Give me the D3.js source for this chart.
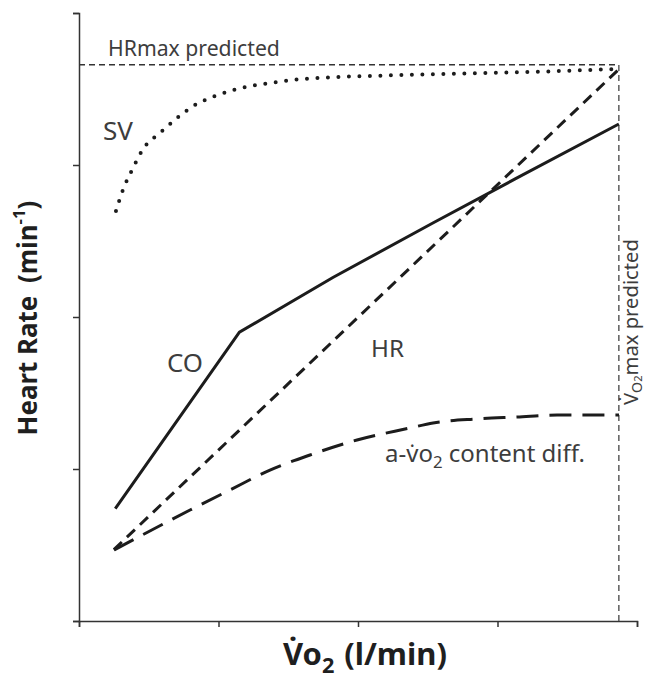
<!DOCTYPE html>
<html>
<head>
<meta charset="utf-8">
<title>Heart rate, SV, CO vs VO2</title>
<script src="https://cdn.jsdelivr.net/npm/d3@7"></script>
<style>
    body { margin: 0; background: #fff; }
    text { font-family: "Noto Sans", "Open Sans", sans-serif; fill: #3d3d3d; }
    .title { font-weight: bold; fill: #1f1f1f; }
    .axis path, .axis line { stroke: #333; stroke-width: 1.5; }
</style>
</head>
<body>
<svg id="chart" width="648" height="679"></svg>
<script>
    // Axis ticks (the original shows no tick labels)
    var xTicks = [0, 1, 2, 3, 4];
    var yTicks = [0, 1, 2, 3, 4];

    // Predicted maxima (reference lines)
    var vo2MaxPredicted = 3.87;
    var hrMaxPredicted = 3.66;

    // HR - straight line up to HRmax
    var hrX = [0.25, 3.87];
    var hrY = [0.47, 3.63];

    // CO - steep first part, then a flatter slope
    var coX = [0.26, 1.15, 1.82, 2.54, 3.13, 3.87];
    var coY = [0.74, 1.90, 2.26, 2.62, 2.91, 3.27];

    // SV - rises fast, then plateaus
    var svX = [0.265, 0.315, 0.387, 0.459, 0.581, 0.703, 0.832, 0.976, 1.133, 1.369, 1.606, 1.849, 2.086, 2.659, 3.233, 3.871];
    var svY = [2.697, 2.836, 2.980, 3.105, 3.211, 3.309, 3.395, 3.454, 3.500, 3.539, 3.566, 3.579, 3.586, 3.599, 3.612, 3.632];

    // a-vO2 content difference
    var avX = [0.251, 0.796, 1.082, 1.369, 1.656, 1.993, 2.373, 2.538, 2.853, 3.140, 3.427, 3.871];
    var avY = [0.467, 0.730, 0.862, 0.993, 1.092, 1.191, 1.270, 1.303, 1.329, 1.342, 1.355, 1.355];

    var margin = {top: 13, left: 79},
        width = 558,
        height = 608;

    var svg = d3.select("#chart");
    var g = svg.append("g").attr("transform", "translate(" + margin.left + "," + margin.top + ")");

    var x = d3.scaleLinear().domain([0, 4]).range([0, width]);
    var y = d3.scaleLinear().domain([0, 4]).range([height, 0]);

    g.append("g")
        .attr("class", "axis")
        .attr("transform", "translate(0," + height + ")")
        .call(d3.axisBottom(x).tickValues(xTicks).tickFormat("").tickSize(6));

    g.append("g")
        .attr("class", "axis")
        .call(d3.axisLeft(y).tickValues(yTicks).tickFormat("").tickSize(6));

    // reference lines
    g.append("line")
        .attr("x1", x(0)).attr("x2", x(vo2MaxPredicted))
        .attr("y1", y(hrMaxPredicted)).attr("y2", y(hrMaxPredicted))
        .attr("stroke", "#333").attr("stroke-width", 1.5).attr("stroke-dasharray", "6 4");

    g.append("line")
        .attr("x1", x(vo2MaxPredicted)).attr("x2", x(vo2MaxPredicted))
        .attr("y1", y(0)).attr("y2", y(hrMaxPredicted))
        .attr("stroke", "#444").attr("stroke-width", 1.3).attr("stroke-dasharray", "6 4");

    function pts(xs, ys) {
        return xs.map(function (d, i) { return [d, ys[i]]; });
    }

    var lineLin = d3.line().x(function (d) { return x(d[0]); }).y(function (d) { return y(d[1]); });
    var lineCurve = d3.line().curve(d3.curveMonotoneX)
        .x(function (d) { return x(d[0]); }).y(function (d) { return y(d[1]); });

    var series = [
        {data: pts(svX, svY), gen: lineCurve, dash: "0 10.5", w: 4, cap: "round"},
        {data: pts(avX, avY), gen: lineCurve, dash: "22 11", w: 3, cap: "butt"},
        {data: pts(hrX, hrY), gen: lineLin, dash: "11 7", w: 3, cap: "butt"},
        {data: pts(coX, coY), gen: lineLin, dash: null, w: 3, cap: "butt"}
    ];

    g.selectAll(".curve")
        .data(series)
        .enter().append("path")
        .attr("class", "curve")
        .attr("d", function (d) { return d.gen(d.data); })
        .attr("fill", "none")
        .attr("stroke", "#1c1c1c")
        .attr("stroke-width", function (d) { return d.w; })
        .attr("stroke-linecap", function (d) { return d.cap; })
        .attr("stroke-dasharray", function (d) { return d.dash; });

    // scale font so a label spans a given width
    function fit(t, w) {
        var fs = parseFloat(t.style("font-size"));
        var len = t.node().getComputedTextLength();
        t.style("font-size", (fs * w / len) + "px");
        return t;
    }

    function sub(t, txt, dy) {
        t.append("tspan").attr("font-size", "70%").attr("dy", dy + "em").text(txt);
    }

    // plain labels
    fit(svg.append("text").attr("x", 108).attr("y", 56).style("font-size", "20px").text("HRmax predicted"), 172);
    fit(svg.append("text").attr("x", 103).attr("y", 140).style("font-size", "24px").text("SV"), 30);
    fit(svg.append("text").attr("x", 167).attr("y", 372).style("font-size", "24px").text("CO"), 36);
    fit(svg.append("text").attr("x", 371).attr("y", 357).style("font-size", "24px").text("HR"), 33);

    var av = svg.append("text").attr("x", 385).attr("y", 462).style("font-size", "22px");
    av.append("tspan").text("a-v\u0307o");
    sub(av, "2", 0.35);
    av.append("tspan").attr("dy", "-0.245em").text(" content diff.");
    fit(av, 200);

    var vm = svg.append("text").attr("transform", "translate(638,405) rotate(-90)").style("font-size", "19px");
    vm.append("tspan").text("V\u0307");
    sub(vm, "O", 0.3);
    vm.append("tspan").attr("font-size", "55%").text("2");
    vm.append("tspan").attr("dy", "-0.21em").text("max predicted");
    fit(vm, 166);

    // axis titles
    var yt = svg.append("text").attr("class", "title")
        .attr("transform", "translate(37,318) rotate(-90)")
        .attr("text-anchor", "middle").style("font-size", "22px");
    yt.append("tspan").text("Heart Rate ");
    yt.append("tspan").attr("dx", 6).text("(min");
    yt.append("tspan").attr("font-size", "65%").attr("dy", "-0.7em").text("-1");
    yt.append("tspan").attr("dy", "0.455em").text(")");
    fit(yt, 229);

    var xt = svg.append("text").attr("class", "title")
        .attr("x", 283).attr("y", 665).style("font-size", "22px");
    xt.append("tspan").text("V\u0307o");
    sub(xt, "2", 0.35);
    xt.append("tspan").attr("dy", "-0.245em").attr("dx", 10).text("(l/min)");
    fit(xt, 154);
</script>
</body>
</html>
